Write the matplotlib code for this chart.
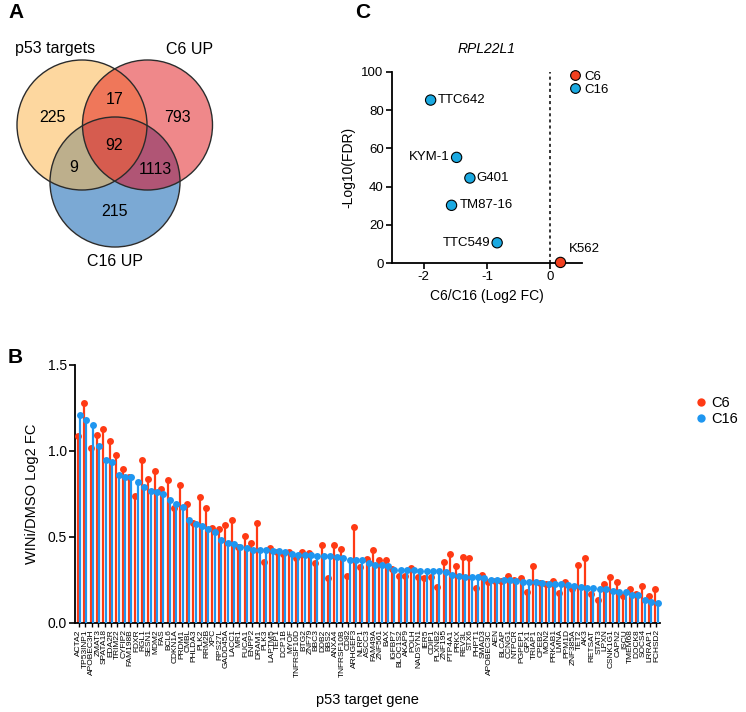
import numpy as np
import matplotlib
matplotlib.use("Agg")
import matplotlib.pyplot as plt
from matplotlib.patches import Circle
from matplotlib.lines import Line2D
from matplotlib.colors import to_rgba

plt.rcParams['font.family'] = ['Liberation Sans', 'DejaVu Sans']

# ---------------- Panel A data ----------------
venn_names = ["p53 targets", "C6 UP", "C16 UP"]
venn_regions = ["100", "010", "001", "110", "101", "011", "111"]
venn_counts = [225, 793, 215, 17, 9, 1113, 92]

# ---------------- Panel B data ----------------
genes = ["ACTA2", "TP53INP1", "APOBEC3H", "ZMAT3", "SPATA18", "EDA2R", "TRIM22", "CYFIP2",
         "FAM198B", "FDXR", "RGL1", "SESN1", "MDM2", "FAS", "BCL6", "CDKN1A", "PRDM1", "CMBL",
         "PHLDA3", "PLK2", "RRM2B", "XPC", "RPS27L", "GADD45A", "LACC1", "MR1", "FUCA1",
         "ENPP2", "DRAM1", "PLK3", "LAPTM5", "TEP1", "DCP1B", "MYOF", "TNFRSF10D", "BTG2",
         "ZNF79", "BBC3", "DDB2", "BBS2", "ANXA4", "TNFRSF10B", "CD82", "ARHGEF3", "NLRP1",
         "ASCC3", "FAM49A", "ZNF561", "BAX", "IGFBP7", "BLOC1S2", "AKAP9", "POLH", "NADSYN1",
         "IER5", "CDIP1", "PLXNB2", "ZNF195", "PTP4A1", "PRKX", "REV3L", "STX6", "PHPT1",
         "SMAD3", "APOBEC3C", "AEN", "BLCAP", "CCNG1", "NTPCR", "PGPEP1", "GPX1", "TRIAP1",
         "CPEB2", "MON2", "PRKAB1", "LMNA", "PPM1D", "ZNF385A", "TET2", "AK3", "RETSAT",
         "STAT3", "LPXN", "CSNK1G1", "CAPN2", "ISCU", "TMEM68", "DOCK8", "SOCS4", "LRRAP1",
         "FCHSD2"]
c6 = [1.09, 1.28, 1.02, 1.095, 1.13, 1.06, 0.975, 0.895, 0.847, 0.74,
      0.95, 0.837, 0.885, 0.78, 0.833, 0.668, 0.80, 0.694, 0.58, 0.73,
      0.668, 0.552, 0.546, 0.57, 0.60, 0.44, 0.503, 0.465, 0.58, 0.355,
      0.436, 0.41, 0.403, 0.41, 0.38, 0.41, 0.406, 0.347, 0.455, 0.26,
      0.451, 0.428, 0.273, 0.558, 0.326, 0.372, 0.422, 0.366, 0.366, 0.316,
      0.275, 0.275, 0.32, 0.27, 0.26, 0.27, 0.207, 0.352, 0.403, 0.329,
      0.381, 0.379, 0.203, 0.279, 0.236, 0.242, 0.242, 0.275, 0.248, 0.262,
      0.178, 0.333, 0.232, 0.228, 0.242, 0.174, 0.236, 0.20, 0.339, 0.378,
      0.166, 0.134, 0.227, 0.267, 0.238, 0.157, 0.20, 0.166, 0.213, 0.159,
      0.195]
c16 = [1.21, 1.18, 1.15, 1.03, 0.95, 0.936, 0.86, 0.85, 0.847, 0.818,
       0.79, 0.77, 0.76, 0.75, 0.717, 0.69, 0.674, 0.60, 0.577, 0.566,
       0.548, 0.529, 0.482, 0.467, 0.459, 0.44, 0.437, 0.426, 0.426, 0.424,
       0.42, 0.416, 0.413, 0.403, 0.397, 0.395, 0.393, 0.39, 0.387, 0.387,
       0.385, 0.377, 0.368, 0.368, 0.366, 0.35, 0.34, 0.335, 0.331, 0.306,
       0.306, 0.306, 0.306, 0.304, 0.302, 0.30, 0.30, 0.294, 0.277, 0.273,
       0.27, 0.268, 0.266, 0.262, 0.252, 0.252, 0.25, 0.248, 0.242, 0.24,
       0.238, 0.236, 0.234, 0.228, 0.226, 0.226, 0.222, 0.217, 0.207, 0.205,
       0.201, 0.20, 0.195, 0.188, 0.18, 0.178, 0.165, 0.162, 0.134, 0.122,
       0.118]

# ---------------- Panel C data ----------------
cell_lines = ["TTC642", "KYM-1", "G401", "TM87-16", "TTC549", "K562"]
log2fc = [-1.89, -1.48, -1.27, -1.56, -0.84, 0.16]
neglog10fdr = [85.3, 55.3, 44.5, 30.2, 10.6, 0.3]
line_group = ["C16", "C16", "C16", "C16", "C16", "C6"]

# ---------------- styling ----------------
RED_B, BLUE_B = "#FF3A14", "#1E96F0"
RED_C, BLUE_C = "#F2401F", "#1AA9E1"
venn_colors = {"100": "#FDD7A0", "010": "#F0888A", "001": "#7CAAD4",
               "110": "#F0785A", "101": "#BEAF8C", "011": "#B05676", "111": "#D65C50"}

W, H = 746, 712
fig = plt.figure(figsize=(W / 100, H / 100), dpi=100)


def rect(x0, y0, x1, y1):
    return [x0 / W, 1 - y1 / H, (x1 - x0) / W, (y1 - y0) / H]


def ftext(x, y, s, **kw):
    fig.text(x / W, 1 - y / H, s, **kw)


# ---------------- Panel A: Venn ----------------
axA = fig.add_axes(rect(0, 0, 300, 300))
axA.set_xlim(0, 300)
axA.set_ylim(300, 0)
axA.axis("off")
centers = [(82, 125), (147.5, 125), (115, 182)]
radius = 65
gx, gy = np.meshgrid(np.arange(0, 300, 0.5) + 0.25, np.arange(0, 300, 0.5) + 0.25)
inside = [((gx - cx) ** 2 + (gy - cy) ** 2) <= radius ** 2 for cx, cy in centers]
img = np.ones(gx.shape + (4,))
img[..., 3] = 0
for key in venn_regions:
    m = np.ones(gx.shape, bool)
    for k, ch in enumerate(key):
        m &= inside[k] if ch == "1" else ~inside[k]
    img[m] = to_rgba(venn_colors[key])
axA.imshow(img, extent=(0, 300, 300, 0), interpolation="bilinear")
for cx, cy in centers:
    axA.add_patch(Circle((cx, cy), radius, fill=False, ec="#2b2b2b", lw=1.0))
count_pos = {"100": (52, 117), "010": (177, 117), "001": (114, 212), "110": (115, 100),
             "101": (74, 168), "011": (155, 169), "111": (114, 146)}
for key, cnt in zip(venn_regions, venn_counts):
    px, py = count_pos[key]
    axA.text(px, py, str(cnt), ha="center", va="center", fontsize=11.5)
name_pos = [(55, 48), (190, 50), (115, 262)]
for nm, (px, py) in zip(venn_names, name_pos):
    axA.text(px, py, nm, ha="center", va="center", fontsize=11.5)

# ---------------- Panel B: paired lollipops ----------------
axB = fig.add_axes(rect(75, 365, 660, 623))
x = np.arange(len(genes))
off = 0.18
axB.vlines(x - off, 0, c6, color=RED_B, lw=1.6, zorder=2)
axB.plot(x - off, c6, "o", color=RED_B, ms=5, mec="none", zorder=3, clip_on=False)
axB.vlines(x + off, 0, c16, color=BLUE_B, lw=1.6, zorder=4)
axB.plot(x + off, c16, "o", color=BLUE_B, ms=5, mec="none", zorder=5, clip_on=False)
axB.set_xlim(-0.6, len(genes) - 0.45)
axB.set_ylim(0, 1.5)
axB.set_yticks([0, 0.5, 1.0, 1.5])
axB.set_yticklabels(["0.0", "0.5", "1.0", "1.5"], fontsize=10)
axB.set_xticks(x)
axB.set_xticklabels(genes, rotation=90, fontsize=6.0)
axB.tick_params(axis="x", length=3, width=1, pad=1.5)
axB.tick_params(axis="y", length=4, width=1.2, pad=2)
for s in ["top", "right"]:
    axB.spines[s].set_visible(False)
for s in ["left", "bottom"]:
    axB.spines[s].set_linewidth(1.3)
axB.set_ylabel("WINi/DMSO Log2 FC", fontsize=10.5, labelpad=6)
axB.set_xlabel("p53 target gene", fontsize=10.5, labelpad=11)
hB = [Line2D([], [], marker="o", ls="", color=RED_B, ms=6, mec="none"),
      Line2D([], [], marker="o", ls="", color=BLUE_B, ms=6, mec="none")]
fig.legend(hB, ["C6", "C16"], loc="upper left", bbox_to_anchor=(686 / W, 1 - 389 / H),
           frameon=False, fontsize=10.5, handletextpad=0.2, labelspacing=0.15,
           borderpad=0, handlelength=1.0)

# ---------------- Panel C: scatter ----------------
axC = fig.add_axes(rect(392, 72, 582, 263))
cols = [RED_C if g == "C6" else BLUE_C for g in line_group]
axC.axvline(0, ls=(0, (2, 2)), color="black", lw=1.1, zorder=1)
axC.scatter(log2fc, neglog10fdr, s=55, c=cols, edgecolors="black", linewidths=0.8,
            zorder=3, clip_on=False)
lab_off = {"TTC642": (5, 0, "left"), "KYM-1": (-5, 0, "right"), "G401": (5, 0, "left"),
           "TM87-16": (6, 0, "left"), "TTC549": (-5, 0, "right"), "K562": (6, 10, "left")}
for nm, xv, yv in zip(cell_lines, log2fc, neglog10fdr):
    dx, dy, ha = lab_off[nm]
    axC.annotate(nm, (xv, yv), xytext=(dx, dy), textcoords="offset points",
                 ha=ha, va="center", fontsize=9.5)
axC.set_xlim(-2.5, 0.5)
axC.set_ylim(0, 100)
axC.set_xticks([-2, -1, 0])
axC.set_xticklabels(["-2", "-1", "0"])
axC.set_yticks([0, 20, 40, 60, 80, 100])
axC.tick_params(labelsize=9.5, length=4, width=1.2, pad=2)
for s in ["top", "right"]:
    axC.spines[s].set_visible(False)
for s in ["left", "bottom"]:
    axC.spines[s].set_linewidth(1.3)
axC.set_title("RPL22L1", fontsize=10, style="italic", pad=14)
axC.set_ylabel("-Log10(FDR)", fontsize=10)
axC.set_xlabel("C6/C16 (Log2 FC)", fontsize=10)
hC = [Line2D([], [], marker="o", ls="", color=RED_C, ms=7, mec="black", mew=0.8),
      Line2D([], [], marker="o", ls="", color=BLUE_C, ms=7, mec="black", mew=0.8)]
fig.legend(hC, ["C6", "C16"], loc="upper left", bbox_to_anchor=(562 / W, 1 - 64 / H),
           frameon=False, fontsize=9.5, handletextpad=0.2, labelspacing=0.05,
           borderpad=0, handlelength=1.0)

# ---------------- panel letters ----------------
ftext(8, 12, "A", fontsize=15, fontweight="bold", va="center")
ftext(8, 358, "B", fontsize=15, fontweight="bold", va="center")
ftext(355, 12, "C", fontsize=15, fontweight="bold", va="center")

fig.savefig("out.png", dpi=100)
